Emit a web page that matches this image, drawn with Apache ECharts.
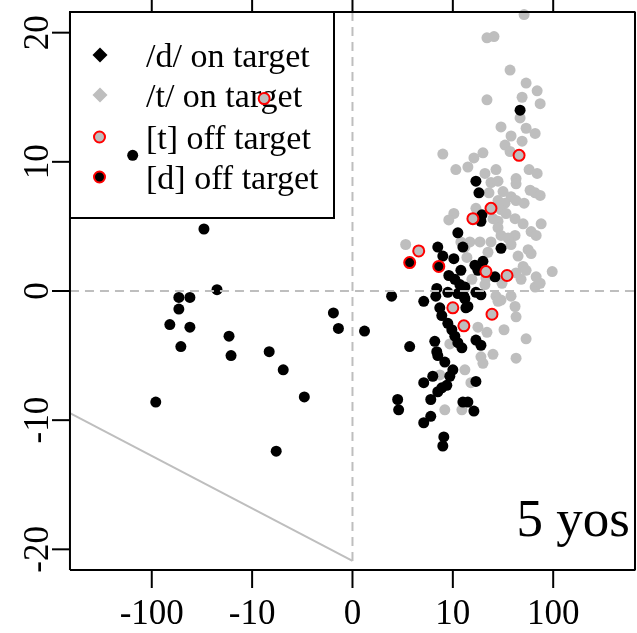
<!DOCTYPE html>
<html>
<head>
<meta charset="utf-8">
<script src="https://cdn.jsdelivr.net/npm/echarts@6/dist/echarts.min.js"></script>
<style>
  html, body { margin: 0; padding: 0; background: #fff; }
  #chart { width: 637px; height: 633px; }
</style>
</head>
<body>
<div id="chart"></div>
<script>
// x positions are on a signed log scale: 1 = 10, 2 = 100, -1 = -10, -2 = -100.
const xTickPos = [-2, -1, 0, 1, 2];
const xTickLabels = ['-100', '-10', '0', '10', '100'];
const yTicks = [-20, -10, 0, 10, 20];

const seriesNames = ['/d/ on target', '/t/ on target', '[t] off target', '[d] off target'];
const panelLabel = '5 yos';

// /d/ produced on target
const dOnTarget = [
  [-2.19, 10.5], [-1.48, 4.8], [-1.35, 0.1], [-1.73, -0.5], [-1.62, -0.5], [-1.73, -1.4],
  [-1.82, -2.6], [-1.62, -2.8], [-1.71, -4.3], [-1.23, -3.5], [-1.21, -5.0], [-0.83, -4.7],
  [-0.69, -6.1], [-0.48, -8.2], [-1.96, -8.6], [-0.76, -12.4], [-0.19, -1.7], [-0.14, -2.9],
  [0.12, -3.1],
  [1.67, 14.0], [1.23, 8.5], [1.26, 7.6], [1.29, 5.9], [1.28, 5.4], [1.05, 4.5], [1.10, 3.4],
  [0.85, 3.4], [0.90, 2.7], [1.01, 2.5], [1.08, 1.6], [0.96, 1.2], [1.02, 0.9], [1.07, 0.5],
  [1.12, 0.3], [0.84, 0.2], [0.83, -0.4], [0.95, -0.1], [1.05, -0.2], [1.11, -0.4], [0.39, -0.4],
  [0.71, -0.8], [1.48, 3.3], [1.22, 2.0], [1.30, 2.3], [1.25, 1.6], [1.42, 1.1], [1.23, -0.1],
  [1.28, -0.3], [1.12, -0.6], [0.87, -1.3], [0.89, -1.9], [1.13, -1.3], [1.15, -1.2], [0.95, -2.5],
  [0.99, -3.0], [1.02, -3.5], [1.05, -4.0], [1.09, -4.4], [0.57, -4.3], [0.82, -3.9], [0.84, -4.7],
  [0.85, -5.0], [0.92, -5.5], [1.00, -6.1], [0.97, -6.6], [0.80, -6.6], [0.71, -7.1], [0.94, -7.3],
  [0.89, -7.5], [0.85, -7.8], [0.45, -8.4], [0.46, -9.2], [0.78, -8.4], [1.10, -8.6], [0.78, -9.7],
  [0.71, -10.2], [0.91, -11.3], [0.90, -12.0], [1.23, -3.8], [1.28, -4.2], [1.23, -7.0],
  [1.15, -8.6], [1.21, -9.3]
];

// /t/ produced on target
const tOnTarget = [
  [1.71, 21.4], [1.34, 19.6], [1.41, 19.7], [1.57, 17.1], [1.73, 16.1], [1.84, 15.5], [1.34, 14.8],
  [1.69, 15.0], [1.87, 14.5], [1.67, 13.4], [1.48, 12.7], [1.73, 12.6], [1.82, 12.2], [1.58, 12.0],
  [1.69, 11.6], [1.52, 11.3], [1.57, 10.8], [1.30, 10.7], [1.21, 10.3], [0.90, 10.6], [1.03, 9.4],
  [1.15, 9.6], [1.32, 9.1], [1.43, 9.4], [1.76, 9.4], [1.84, 9.1], [1.63, 8.7], [1.38, 8.4],
  [1.45, 8.5], [1.63, 8.3], [1.77, 7.8], [1.82, 7.6], [1.87, 7.4], [1.36, 7.6], [1.50, 7.7],
  [1.58, 7.3], [1.63, 7.0], [1.71, 6.8], [1.45, 7.0], [1.52, 6.8], [1.23, 6.4], [1.48, 6.3],
  [1.53, 6.0], [1.40, 5.6], [1.45, 5.4], [1.62, 5.6], [1.70, 5.2], [1.88, 5.2], [1.78, 4.6],
  [1.83, 4.3], [1.45, 4.9], [1.48, 4.3], [1.62, 4.3], [1.17, 3.8], [1.27, 3.8], [1.38, 3.8],
  [1.55, 4.1], [1.58, 3.6], [1.75, 3.2], [1.78, 2.9], [1.35, 3.0], [1.65, 2.7], [1.70, 1.9],
  [1.73, 1.6], [1.99, 1.5], [1.63, 1.4], [1.83, 1.1], [1.68, 0.9], [1.19, 0.9], [1.33, 1.0],
  [1.49, 0.6], [1.43, -0.4], [1.48, -0.7], [1.58, -0.4], [1.82, 0.3], [1.87, 0.6], [1.01, 6.0],
  [0.96, 5.5], [0.53, 3.6], [1.08, 3.8], [1.12, 3.4], [1.45, -0.8], [1.62, -1.2], [1.63, -2.0],
  [1.25, -2.8], [1.34, -3.2], [1.51, -3.0], [1.73, -3.7], [1.28, -5.1], [1.30, -5.6], [1.40, -4.9],
  [1.63, -5.2], [1.18, -7.1], [1.12, -6.1], [0.97, -4.1], [0.87, -6.5], [0.92, -9.2], [1.09, -9.2],
  [1.32, 0.5], [1.14, 2.6]
];

// [t] produced off target
const tOffTarget = [
  [-0.88, 14.9], [1.66, 10.5], [1.38, 6.4], [1.20, 5.6], [0.66, 3.1], [1.33, 1.5], [1.54, 1.2],
  [1.00, -1.3], [1.39, -1.8], [1.11, -2.7]
];

// [d] produced off target
const dOffTarget = [
  [0.57, 2.2], [0.86, 1.9]
];

// Plot box extents, and the wider axis extents that leave room for the tick marks.
const xBox = [-2.815, 2.815];
const yBox = [-21.6, 21.6];
const xAxisRange = [-2.994, 2.835];
const yAxisRange = [-22.994, 22.529];
const guideFloor = -20.9;   // lower end of the x = 0 guide and of the diagonal
const diagonalLeft = -9.46; // y of the diagonal at the left edge

const SERIF = "'Liberation Serif', 'Times New Roman', serif";
const GRAY = '#BEBEBE';
const RED = '#FF0000';

const chart = echarts.init(document.getElementById('chart'), null, { renderer: 'canvas' });

function pointSeries(name, data, fill, ring, z) {
  return {
    name: name,
    type: 'scatter',
    data: data,
    symbol: 'circle',
    symbolSize: 11,
    itemStyle: ring ? { color: fill, borderColor: RED, borderWidth: 2, opacity: 1 }
                    : { color: fill, opacity: 1 },
    z: z,
    silent: true
  };
}

function segment(data, color, dashed, z) {
  return {
    type: 'line',
    data: data,
    symbol: 'none',
    silent: true,
    z: z,
    lineStyle: { color: color, width: 2, type: dashed ? [9, 6] : 'solid', cap: 'butt' }
  };
}

// frame around the plot box
const frameSeries = segment([
  [xBox[0], yBox[0]], [xBox[1], yBox[0]], [xBox[1], yBox[1]], [xBox[0], yBox[1]], [xBox[0], yBox[0]]
], '#000', false, 12);

// outward tick marks: bottom and top edges for x, left edge for y
const tickSeries = [];
xTickPos.forEach(v => {
  tickSeries.push(segment([[v, yBox[0]], [v, yAxisRange[0]]], '#000', false, 12));
  tickSeries.push(segment([[v, yBox[1]], [v, yAxisRange[1]]], '#000', false, 12));
});
yTicks.forEach(v => {
  tickSeries.push(segment([[xBox[0], v], [xAxisRange[0], v]], '#000', false, 12));
});

// legend rows: symbol centre y positions
const rowY = [55, 95, 137, 177];
const legendGraphics = [
  { type: 'rect', z: 0, shape: { x: 70, y: 12, width: 264, height: 206 },
    style: { fill: '#fff', stroke: '#000', lineWidth: 2 } },
  { type: 'polygon', z: 0, shape: { points: [[100, rowY[0] - 7.5], [107.5, rowY[0]], [100, rowY[0] + 7.5], [92.5, rowY[0]]] },
    style: { fill: '#000' } },
  { type: 'polygon', z: 0, shape: { points: [[100, rowY[1] - 7.5], [107.5, rowY[1]], [100, rowY[1] + 7.5], [92.5, rowY[1]]] },
    style: { fill: GRAY } },
  { type: 'circle', z: 0, shape: { cx: 99.5, cy: rowY[2], r: 5.5 },
    style: { fill: GRAY, stroke: RED, lineWidth: 2 } },
  { type: 'circle', z: 0, shape: { cx: 99.5, cy: rowY[3], r: 5.5 },
    style: { fill: '#000', stroke: RED, lineWidth: 2 } }
];
seriesNames.forEach((name, i) => {
  legendGraphics.push({
    type: 'text', z: 0, x: 146, y: rowY[i] + 3,
    style: { text: name, fontFamily: SERIF, fontSize: 34, fill: '#000', align: 'left', verticalAlign: 'middle' }
  });
});
legendGraphics.push({
  type: 'text', z: 0, x: 630, y: 522,
  style: { text: panelLabel, fontFamily: SERIF, fontSize: 53, fill: '#000', align: 'right', verticalAlign: 'middle' }
});

const option = {
  animation: false,
  backgroundColor: '#fff',
  grid: { left: 52, right: 0, top: 0, bottom: 45, show: false },
  xAxis: {
    type: 'value', min: xAxisRange[0], max: xAxisRange[1],
    axisLine: { show: false, onZero: false }, splitLine: { show: false }, axisTick: { show: false },
    axisLabel: {
      customValues: xTickPos,
      formatter: v => xTickLabels[xTickPos.indexOf(v)],
      fontFamily: SERIF, fontSize: 35, color: '#000', margin: 9
    }
  },
  yAxis: {
    type: 'value', min: yAxisRange[0], max: yAxisRange[1],
    axisLine: { show: false, onZero: false }, splitLine: { show: false }, axisTick: { show: false },
    axisLabel: {
      customValues: yTicks, rotate: 90,
      fontFamily: SERIF, fontSize: 35, color: '#000', margin: -4
    }
  },
  graphic: { elements: legendGraphics },
  series: [
    pointSeries(seriesNames[1], tOnTarget, GRAY, false, 3),
    pointSeries(seriesNames[0], dOnTarget, '#000', false, 4),
    pointSeries(seriesNames[2], tOffTarget, GRAY, true, 5),
    pointSeries(seriesNames[3], dOffTarget, '#000', true, 5),
    segment([[xBox[0], 0], [xBox[1], 0]], GRAY, true, 10),
    segment([[0, yBox[1]], [0, guideFloor]], GRAY, true, 10),
    segment([[xBox[0], diagonalLeft], [0, guideFloor]], GRAY, false, 10),
    frameSeries
  ].concat(tickSeries)
};

chart.setOption(option);
</script>
</body>
</html>
